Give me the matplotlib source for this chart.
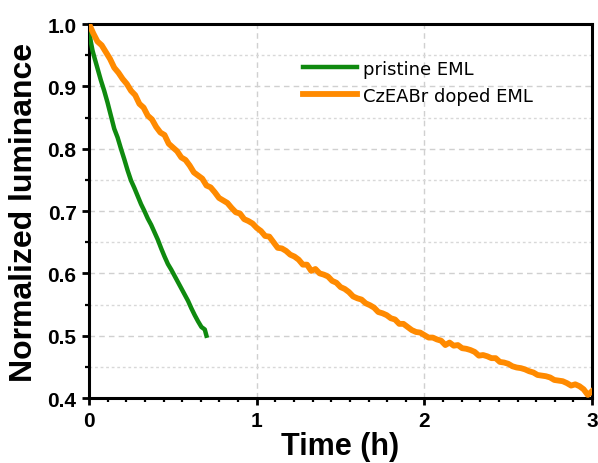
import matplotlib
matplotlib.use('Agg')
import matplotlib.pyplot as plt
from matplotlib.ticker import MultipleLocator, AutoMinorLocator

# pristine EML (green)
t_pristine = [0.00, 0.01, 0.02, 0.03, 0.05, 0.07, 0.09, 0.11, 0.13, 0.15,
              0.17, 0.19, 0.21, 0.23, 0.25, 0.27, 0.29, 0.31, 0.33, 0.35,
              0.37, 0.39, 0.41, 0.43, 0.45, 0.47, 0.49, 0.51, 0.53, 0.55,
              0.57, 0.59, 0.61, 0.63, 0.65, 0.67, 0.69, 0.70]
lum_pristine = [0.990, 0.972, 0.958, 0.948, 0.929, 0.910, 0.893, 0.874, 0.853, 0.832,
                0.818, 0.800, 0.783, 0.765, 0.749, 0.737, 0.724, 0.711, 0.700, 0.688,
                0.678, 0.666, 0.654, 0.640, 0.627, 0.615, 0.606, 0.596, 0.586, 0.576,
                0.566, 0.556, 0.544, 0.533, 0.523, 0.514, 0.510, 0.500]

# CzEABr doped EML (orange)
t_doped = [0.000, 0.025, 0.050, 0.075, 0.100, 0.125, 0.150, 0.175, 0.200, 0.225,
           0.250, 0.275, 0.300, 0.325, 0.350, 0.375, 0.400, 0.425, 0.450, 0.475,
           0.500, 0.525, 0.550, 0.575, 0.600, 0.625, 0.650, 0.675, 0.700, 0.725,
           0.750, 0.775, 0.800, 0.825, 0.850, 0.875, 0.900, 0.925, 0.950, 0.975,
           1.000, 1.025, 1.050, 1.075, 1.100, 1.125, 1.150, 1.175, 1.200, 1.225,
           1.250, 1.275, 1.300, 1.325, 1.350, 1.375, 1.400, 1.425, 1.450, 1.475,
           1.500, 1.525, 1.550, 1.575, 1.600, 1.625, 1.650, 1.675, 1.700, 1.725,
           1.750, 1.775, 1.800, 1.825, 1.850, 1.875, 1.900, 1.925, 1.950, 1.975,
           2.000, 2.025, 2.050, 2.075, 2.100, 2.125, 2.150, 2.175, 2.200, 2.225,
           2.250, 2.275, 2.300, 2.325, 2.350, 2.375, 2.400, 2.425, 2.450, 2.475,
           2.500, 2.525, 2.550, 2.575, 2.600, 2.625, 2.650, 2.675, 2.700, 2.725,
           2.750, 2.775, 2.800, 2.825, 2.850, 2.875, 2.900, 2.925, 2.950, 2.975,
           3.000]
lum_doped = [1.000, 0.985, 0.972, 0.966, 0.955, 0.944, 0.930, 0.922, 0.912, 0.904,
             0.893, 0.886, 0.872, 0.866, 0.853, 0.847, 0.835, 0.826, 0.822, 0.808,
             0.802, 0.796, 0.786, 0.782, 0.773, 0.762, 0.757, 0.752, 0.741, 0.738,
             0.730, 0.721, 0.717, 0.713, 0.705, 0.698, 0.696, 0.687, 0.684, 0.680,
             0.673, 0.668, 0.660, 0.659, 0.650, 0.641, 0.640, 0.636, 0.630, 0.627,
             0.622, 0.614, 0.614, 0.604, 0.607, 0.600, 0.598, 0.595, 0.588, 0.585,
             0.578, 0.575, 0.570, 0.563, 0.560, 0.558, 0.552, 0.549, 0.545, 0.538,
             0.536, 0.533, 0.528, 0.526, 0.519, 0.519, 0.514, 0.509, 0.506, 0.505,
             0.501, 0.497, 0.497, 0.494, 0.492, 0.485, 0.489, 0.484, 0.485, 0.480,
             0.479, 0.477, 0.474, 0.468, 0.469, 0.467, 0.464, 0.464, 0.458, 0.457,
             0.455, 0.451, 0.449, 0.448, 0.446, 0.443, 0.441, 0.437, 0.436, 0.435,
             0.433, 0.429, 0.428, 0.427, 0.424, 0.420, 0.422, 0.419, 0.414, 0.405,
             0.411]

labels = ['pristine EML', 'CzEABr doped EML']
colors = ['#0f8a0f', '#ff8a00']

fig = plt.figure(figsize=(5.98, 4.64), dpi=100)
ax = fig.add_axes([0.149, 0.140, 0.841, 0.806])

ax.plot(t_pristine, lum_pristine, color=colors[0], lw=3.2, label=labels[0], zorder=3)
ax.plot(t_doped, lum_doped, color=colors[1], lw=4.2, label=labels[1], zorder=3)

ax.set_xlim(0, 3)
ax.set_ylim(0.4, 1.0)
ax.xaxis.set_major_locator(MultipleLocator(1))
ax.xaxis.set_minor_locator(AutoMinorLocator(9))
ax.set_yticks([0.4, 0.5, 0.6, 0.7, 0.8, 0.9, 1.0])
ax.set_yticklabels(['0.4', '0.5', '0.6', '0.7', '0.8', '0.9', '1.0'])
ax.yaxis.set_minor_locator(MultipleLocator(0.05))

ax.grid(which='major', axis='both', color='#d0d0d0', ls=(0, (4, 3)), lw=1)
ax.grid(which='minor', axis='y', color='#d8d8d8', ls=(0, (2, 2)), lw=1)
ax.set_axisbelow(True)

for s in ax.spines.values():
    s.set_linewidth(2.2)
ax.tick_params(which='major', direction='out', length=5, width=2, pad=4)
ax.tick_params(which='minor', direction='out', length=3, width=1.6)

for lab in ax.get_xticklabels() + ax.get_yticklabels():
    lab.set_fontfamily('Liberation Sans')
    lab.set_fontweight('bold')
    lab.set_fontsize(15)

ax.set_xlabel('Time (h)', fontfamily='Liberation Sans', fontweight='bold',
              fontsize=22, labelpad=1)
ax.set_ylabel('Normalized luminance', fontfamily='Liberation Sans', fontweight='bold',
              fontsize=23, labelpad=6)

ax.legend(loc='upper left', bbox_to_anchor=(0.425, 0.905), frameon=False,
          borderpad=0, borderaxespad=0, handlelength=3, handletextpad=0.35,
          labelspacing=0.5, prop={'family': 'DejaVu Sans', 'size': 13})

fig.savefig('out.png', dpi=100)
